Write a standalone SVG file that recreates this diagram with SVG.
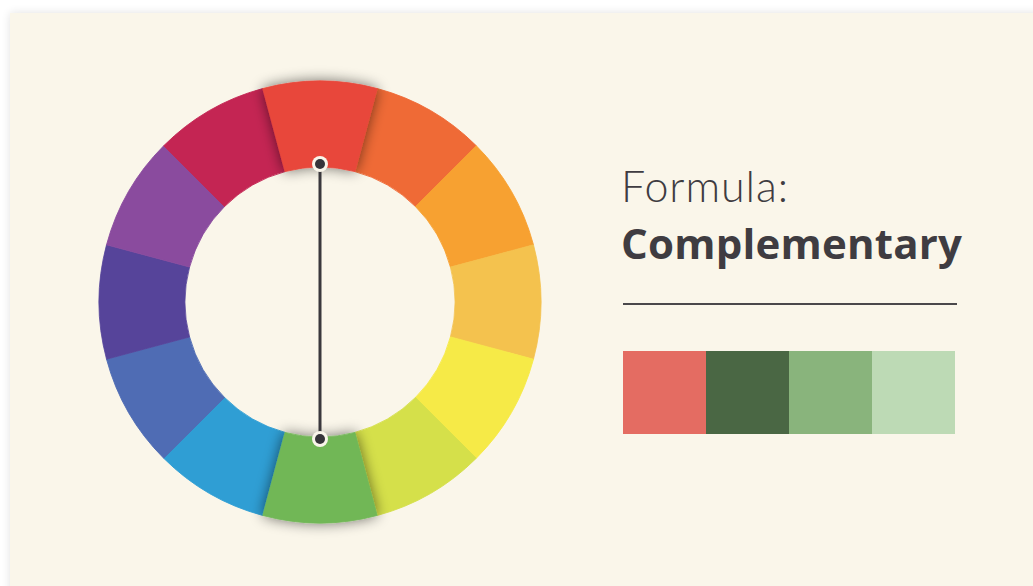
<svg xmlns="http://www.w3.org/2000/svg" width="1033" height="586" viewBox="0 0 1033 586">
  <defs>
    <filter id="cardShadow" x="-5%" y="-5%" width="110%" height="110%">
      <feGaussianBlur in="SourceAlpha" stdDeviation="5"/>
      <feComponentTransfer><feFuncA type="linear" slope="0.12"/></feComponentTransfer>
      <feMerge><feMergeNode/><feMergeNode in="SourceGraphic"/></feMerge>
    </filter>
    <filter id="lift" x="-50%" y="-50%" width="200%" height="200%">
      <feGaussianBlur in="SourceAlpha" stdDeviation="7"/>
      <feComponentTransfer><feFuncA type="linear" slope="0.55"/></feComponentTransfer>
      <feMerge><feMergeNode/><feMergeNode in="SourceGraphic"/></feMerge>
    </filter>
    <path id="seg" d="M262.80,88.53 A221,221 0 0 1 377.20,88.53 L354.94,171.60 A135,135 0 0 0 285.06,171.60 Z"/>
  </defs>
  <style>
    .s { stroke-width: 0.8; }
    .t { fill: #3f3c41; }
    .dotRing { fill: #f9f5ea; }
    .dotCore { fill: #36343a; }
  </style>
  <rect width="1033" height="586" fill="#ffffff"/>
  <rect x="10" y="13" width="1040" height="590" fill="#faf6ea" filter="url(#cardShadow)"/>

  <g id="wheel">
    <g id="seg-orange-red"><use href="#seg" class="s" fill="#ef6a36" stroke="#ef6a36" transform="rotate(30 320 302)"/></g>
    <g id="seg-orange"><use href="#seg" class="s" fill="#f7a131" stroke="#f7a131" transform="rotate(60 320 302)"/></g>
    <g id="seg-amber"><use href="#seg" class="s" fill="#f4c24e" stroke="#f4c24e" transform="rotate(90 320 302)"/></g>
    <g id="seg-yellow"><use href="#seg" class="s" fill="#f6ea47" stroke="#f6ea47" transform="rotate(120 320 302)"/></g>
    <g id="seg-yellow-green"><use href="#seg" class="s" fill="#d5e04a" stroke="#d5e04a" transform="rotate(150 320 302)"/></g>
    <g id="seg-blue"><use href="#seg" class="s" fill="#2f9ed4" stroke="#2f9ed4" transform="rotate(210 320 302)"/></g>
    <g id="seg-blue-violet"><use href="#seg" class="s" fill="#4f6cb4" stroke="#4f6cb4" transform="rotate(240 320 302)"/></g>
    <g id="seg-indigo"><use href="#seg" class="s" fill="#56449a" stroke="#56449a" transform="rotate(270 320 302)"/></g>
    <g id="seg-purple"><use href="#seg" class="s" fill="#8a4b9e" stroke="#8a4b9e" transform="rotate(300 320 302)"/></g>
    <g id="seg-crimson"><use href="#seg" class="s" fill="#c42553" stroke="#c42553" transform="rotate(330 320 302)"/></g>
    <g id="seg-red" filter="url(#lift)"><use href="#seg" class="s" fill="#e8463a" stroke="#e8463a"/></g>
    <g id="seg-green" filter="url(#lift)"><use href="#seg" class="s" fill="#71b757" stroke="#71b757" transform="rotate(180 320 302)"/></g>
  </g>

  <g id="connectors">
    <line x1="320" y1="165" x2="320" y2="439" stroke="#3a383d" stroke-width="3"/>
  </g>
  <g id="dot-top"><circle cx="320" cy="164" r="8" class="dotRing"/><circle cx="320" cy="164" r="5" class="dotCore"/></g>
  <g id="dot-bottom"><circle cx="320" cy="439" r="8" class="dotRing"/><circle cx="320" cy="439" r="5" class="dotCore"/></g>

  <g id="title">
    <text class="t" x="621" y="202" font-family="Lato, 'Open Sans', 'Liberation Sans', sans-serif" font-size="43" font-weight="300" textLength="167" lengthAdjust="spacing">Formula:</text>
    <text class="t" x="621" y="259" font-family="'Open Sans', Lato, 'Liberation Sans', sans-serif" font-size="42" font-weight="700" textLength="341" lengthAdjust="spacing">Complementary</text>
    <line x1="623" y1="304" x2="957" y2="304" stroke="#4a484b" stroke-width="2"/>
  </g>

  <g id="palette">
    <rect x="623" y="351" width="84" height="83" fill="#e46c62"/>
    <rect x="706" y="351" width="84" height="83" fill="#4a6744"/>
    <rect x="789" y="351" width="84" height="83" fill="#89b47c"/>
    <rect x="872" y="351" width="83" height="83" fill="#bddab5"/>
  </g>
</svg>
